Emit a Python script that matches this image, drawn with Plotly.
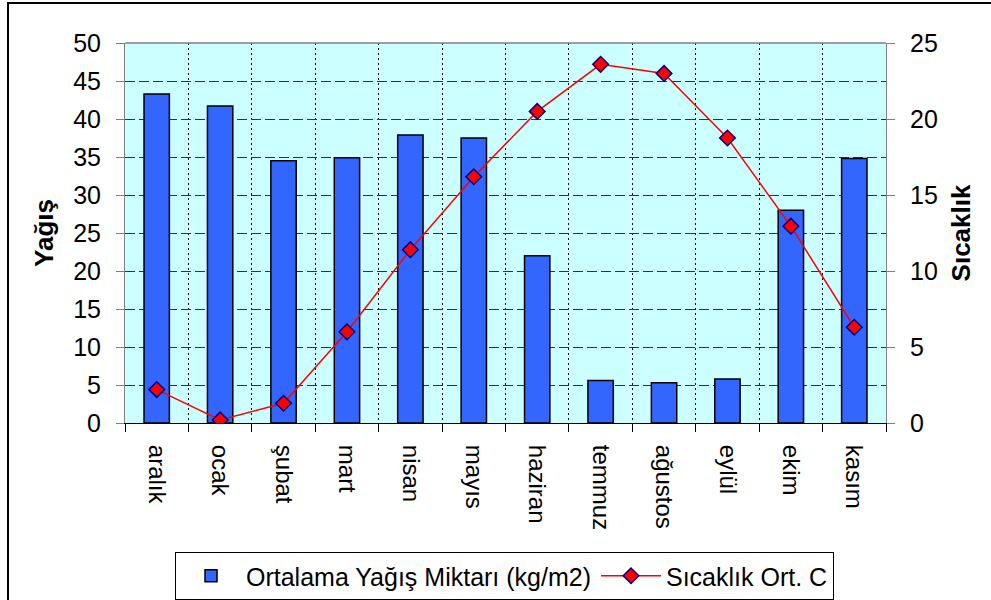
import plotly.graph_objects as go

# Monthly climate data
months = ["aralık", "ocak", "şubat", "mart", "nisan", "mayıs",
          "haziran", "temmuz", "ağustos", "eylül", "ekim", "kasım"]
rainfall = [43.3, 41.7, 34.5, 34.9, 37.9, 37.5, 22.0, 5.6, 5.3, 5.8, 28.0, 34.8]
temperature = [2.2, 0.2, 1.3, 6.0, 11.4, 16.2, 20.5, 23.6, 23.0, 18.75, 12.95, 6.3]

rain_name = "Ortalama Yağış Miktarı (kg/m2)"
temp_name = "Sıcaklık Ort. C"

W, H = 991, 600
L, R, T, B = 125, 886, 43, 423   # plot area in pixels


def px(x):
    return (x - L) / (R - L)


def py(y):
    return (B - y) / (B - T)


FONT = "Liberation Sans, Arial, sans-serif"

fig = go.Figure()

fig.add_trace(go.Bar(
    x=months, y=rainfall, name=rain_name, width=0.4,
    marker=dict(color="#3366FF", line=dict(color="#000000", width=1.5)),
    yaxis="y",
))

fig.add_trace(go.Scatter(
    x=months, y=temperature, name=temp_name, mode="lines+markers",
    line=dict(color="#FF0000", width=1.5),
    marker=dict(symbol="diamond", size=12, color="#FF0000",
                line=dict(color="#000080", width=1.5)),
    yaxis="y2",
))

fig.update_layout(
    width=W, height=H,
    margin=dict(l=L, r=W - R, t=T, b=H - B, autoexpand=False),
    paper_bgcolor="white",
    plot_bgcolor="#CCFFFF",
    font=dict(family=FONT, size=25, color="black"),
    showlegend=True,
    legend=dict(
        orientation="h", x=px(175), y=py(552), xanchor="left", yanchor="top",
        bordercolor="black", borderwidth=1, bgcolor="white",
        font=dict(size=25), itemwidth=60, tracegroupgap=0,
    ),
    xaxis=dict(
        type="category", tickson="boundaries", tickangle=90,
        tickfont=dict(size=24),
        showgrid=True, gridcolor="#000000", griddash="2px,3px", gridwidth=1,
        ticks="outside", ticklen=8, tickcolor="#000000",
        showline=True, linecolor="#000000", linewidth=1,
        ticklabelstandoff=16,
        range=[-0.5, 11.5],
    ),
    yaxis=dict(
        range=[0, 50], dtick=5, tick0=0,
        showgrid=True, gridcolor="#333333", griddash="10px,4px", gridwidth=1,
        ticks="outside", ticklen=8, tickcolor="#808080",
        showline=True, linecolor="#808080", linewidth=1,
        zeroline=False, ticklabelstandoff=10,
        title=dict(text="<b>Yağış</b>", font=dict(size=26), standoff=12),
    ),
    yaxis2=dict(
        range=[0, 25], dtick=5, tick0=0, overlaying="y", side="right",
        showgrid=False,
        ticks="outside", ticklen=8, tickcolor="#808080",
        showline=True, linecolor="#808080", linewidth=1,
        zeroline=False, ticklabelstandoff=10,
        title=dict(text="<b>Sıcaklık</b>", font=dict(size=26), standoff=14),
    ),
    shapes=[
        # top border of the plot area
        dict(type="line", xref="paper", yref="paper", x0=0, x1=1, y0=1, y1=1,
             line=dict(color="#808080", width=1.5)),
        # outer chart frame
        dict(type="rect", xref="paper", yref="paper",
             x0=px(8), x1=px(1010), y0=py(620), y1=py(3),
             line=dict(color="#000000", width=2), layer="above"),
    ],
)

fig.write_html("out.html")
